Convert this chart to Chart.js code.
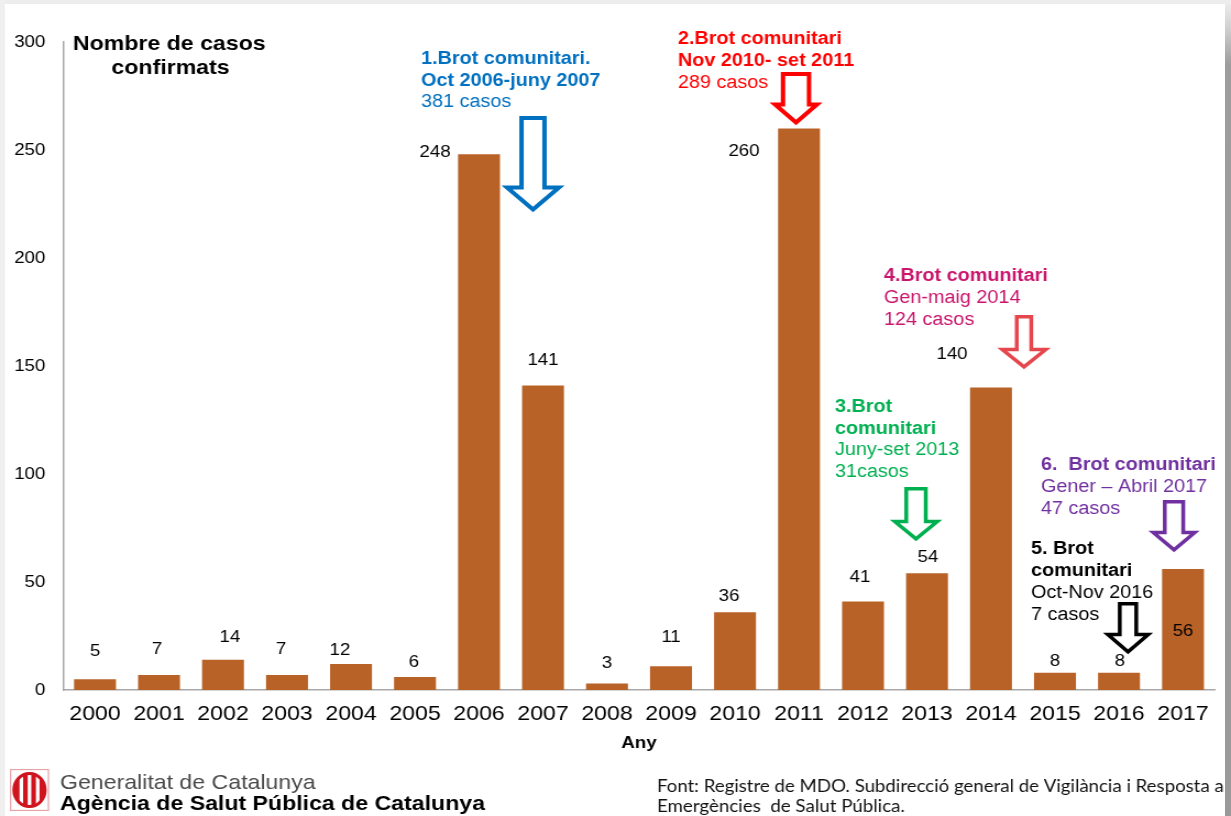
<!DOCTYPE html>
<html lang="ca">
<head>
<meta charset="utf-8">
<title>Nombre de casos confirmats per any, 2000-2017</title>
<script src="https://cdn.jsdelivr.net/npm/chart.js@4.4.1/dist/chart.umd.min.js"></script>
<style>
  html, body { margin: 0; padding: 0; background: #fff; overflow: hidden; }
  #page { position: relative; width: 1231px; height: 816px; overflow: hidden; background: #fff; }
  /* the slide is drawn on a narrower canvas and widened, like the original wide-screen slide */
  #stage { position: absolute; left: 0; top: 0; width: 1119px; height: 816px;
           transform: scaleX(1.10009); transform-origin: 0 0; }
  .edge { position: absolute; }
  #edgeTop { left: 0; top: 0; width: 1231px; height: 4px; background: #ededed; }
  #edgeLeft { left: 0; top: 0; width: 5px; height: 816px; background: #efefef; }
  #edgeRight { left: 1225px; top: 4px; width: 6px; height: 812px;
               background: linear-gradient(#ebebeb 0px, #cfcfcf 25px, #9d9d9d 60px, #999 816px); }
</style>
</head>
<body>
<div id="page">
  <div id="stage"><canvas id="chart" width="1119" height="816"></canvas></div>
  <div class="edge" id="edgeTop"></div>
  <div class="edge" id="edgeLeft"></div>
  <div class="edge" id="edgeRight"></div>
</div>
<script>
// ---- data ----
const years = ['2000', '2001', '2002', '2003', '2004', '2005', '2006', '2007', '2008',
               '2009', '2010', '2011', '2012', '2013', '2014', '2015', '2016', '2017'];
const cases = [5, 7, 14, 7, 12, 6, 248, 141, 3, 11, 36, 260, 41, 54, 140, 8, 8, 56];
const yTicks = [0, 50, 100, 150, 200, 250, 300];

// ---- value label placement (offset from bar top centre, page px) ----
const labelOffsets = [
  [0, -29], [-2, -27], [7, -24], [-6, -27], [-11, -15], [-1, -16],
  [-44, -3], [0, -27], [0, -22], [0, -30], [-6, -17], [-55, 22],
  [-3, -26], [1, -17], [-39, -35], [0, -13], [1, -13], [0, 61]
];

// ---- outbreak notes ----
const outbreaks = [
  { color: '#0070C0', x: 421, y: 57.5, lines: [['1.Brot comunitari.', true], ['Oct 2006-juny 2007', true], ['381 casos', false]],
    arrow: { bar: 7, dx: -10, top: 116, neck: 188, tip: 213, shaft: 13.5, head: 28, lw: 4, color: '#0070C0' } },
  { color: '#FF0000', x: 678, y: 38, lines: [['2.Brot comunitari', true], ['Nov 2010- set 2011', true], ['289 casos', false]],
    arrow: { bar: 11, dx: -3, top: 72, neck: 105, tip: 126, shaft: 15, head: 23, lw: 4, color: '#FF0000' } },
  { color: '#00B050', x: 835, y: 405.5, lines: [['3.Brot', true], ['comunitari', true], ['Juny-set 2013', false], ['31casos', false]],
    arrow: { bar: 13, dx: -11, top: 487, neck: 522, tip: 542, shaft: 11.5, head: 23, lw: 3.5, color: '#00B050' } },
  { color: '#C9156C', x: 884, y: 275, lines: [['4.Brot comunitari', true], ['Gen-maig 2014', false], ['124 casos', false]],
    arrow: { bar: 14, dx: 33, top: 315, neck: 350, tip: 370, shaft: 9, head: 23.5, lw: 3.5, color: '#E5474F' } },
  { color: '#000000', x: 1031, y: 548, lines: [['5. Brot', true], ['comunitari', true], ['Oct-Nov 2016', false], ['7 casos', false]],
    arrow: { bar: 16, dx: 9, top: 602, neck: 635, tip: 655, shaft: 10, head: 22, lw: 3.5, color: '#000000' } },
  { color: '#7030A0', x: 1041, y: 464, lines: [['6.  Brot comunitari', true], ['Gener \u2013 Abril 2017', false], ['47 casos', false]],
    arrow: { bar: 17, dx: -9, top: 500, neck: 533, tip: 553, shaft: 11, head: 22.5, lw: 3.5, color: '#7030A0' } }
];

// ---- drawing helpers ----
const SX = 1231 / 1119;          // horizontal widening of the stage
const X = v => v / SX;           // page x -> canvas x
const FONT = "'Liberation Sans', Arial, sans-serif";
const NOTE_SIZE = 18;
const NOTE_LINE = 21.7;

function label(ctx, str, x, yc, size, bold, color, align, family) {
  ctx.font = (bold ? 'bold ' : '') + size + 'px ' + (family || FONT);
  ctx.fillStyle = color;
  ctx.textAlign = align || 'left';
  ctx.textBaseline = 'alphabetic';
  ctx.fillText(str, x, yc + size * 0.358);
}

function hollowArrow(ctx, cx, a) {
  const h = a.lw / 2;
  const s = X(a.shaft - h), hd = X(a.head - h);
  const top = a.top + h, neck = a.neck - h * 0.3, tip = a.tip - a.lw * 0.9;
  ctx.save();
  ctx.beginPath();
  ctx.moveTo(cx - s, top);
  ctx.lineTo(cx + s, top);
  ctx.lineTo(cx + s, neck);
  ctx.lineTo(cx + hd, neck);
  ctx.lineTo(cx, tip);
  ctx.lineTo(cx - hd, neck);
  ctx.lineTo(cx - s, neck);
  ctx.closePath();
  ctx.fillStyle = '#fff';
  ctx.fill();
  ctx.strokeStyle = a.color;
  ctx.lineWidth = a.lw;
  ctx.lineJoin = 'miter';
  ctx.stroke();
  ctx.restore();
}

function drawEmblem(ctx) {
  const x0 = X(10), x1 = X(49), y0 = 769, y1 = 811;
  const cx = (x0 + x1) / 2, cy = (y0 + y1) / 2;
  ctx.save();
  ctx.fillStyle = '#f7e3e3';
  ctx.fillRect(x0, y0, x1 - x0, y1 - y0);
  ctx.fillStyle = '#ffffff';
  ctx.fillRect(x0 + 1.5, y0 + 1.5, x1 - x0 - 3, y1 - y0 - 3);
  ctx.strokeStyle = '#e6a3a6';
  ctx.lineWidth = 1;
  ctx.strokeRect(x0 + 0.5, y0 + 0.5, x1 - x0 - 1, y1 - y0 - 1);
  // round shield with four red pales
  ctx.beginPath();
  ctx.ellipse(cx, cy, X(16.5), 17.5, 0, 0, Math.PI * 2);
  ctx.clip();
  ctx.fillStyle = '#ffffff';
  ctx.fillRect(x0, y0, x1 - x0, y1 - y0);
  ctx.fillStyle = '#D0141E';
  const pw = X(4.6), gap = X(8.2);
  for (let i = 0; i < 4; i++) {
    ctx.fillRect(cx - 1.5 * gap + i * gap - pw / 2, y0, pw, y1 - y0);
  }
  ctx.restore();
  ctx.save();
  ctx.beginPath();
  ctx.ellipse(cx, cy, X(15.5), 16.5, 0, 0, Math.PI * 2);
  ctx.strokeStyle = '#D0141E';
  ctx.lineWidth = 3;
  ctx.stroke();
  ctx.restore();
}

function fittedLine(ctx, str, x, yc, width, family, color) {
  ctx.font = '16px ' + family;
  const size = 16 * width / ctx.measureText(str).width;
  label(ctx, str, x, yc, size, false, color, 'left', family);
}

const overlay = {
  id: 'overlay',
  afterDatasetsDraw(chart) {
    const ctx = chart.ctx;
    const bars = chart.getDatasetMeta(0).data;
    // value labels
    bars.forEach((bar, i) => {
      const [dx, dy] = labelOffsets[i];
      label(ctx, String(cases[i]), bar.x + X(dx), bar.y + dy, 17, false, '#000', 'center');
    });
    // outbreak notes and arrows
    outbreaks.forEach(o => {
      o.lines.forEach(([t, b], k) => label(ctx, t, X(o.x), o.y + k * NOTE_LINE, NOTE_SIZE, b, o.color));
      const bar = bars[o.arrow.bar];
      hollowArrow(ctx, bar.x + X(o.arrow.dx), o.arrow);
    });
  },
  afterDraw(chart) {
    const ctx = chart.ctx;
    const area = chart.chartArea;
    // axis captions
    label(ctx, 'Nombre de casos', X(73), 42.5, 21, true, '#000');
    label(ctx, 'confirmats', X(170.5), 66, 21, true, '#000', 'center');
    label(ctx, 'Any', (area.left + area.right) / 2, 742, 17, true, '#000', 'center');
    // footer
    drawEmblem(ctx);
    label(ctx, 'Generalitat de Catalunya', X(60), 781, 21, false, '#4a4a4a');
    label(ctx, 'Ag\u00e8ncia de Salut P\u00fablica de Catalunya', X(60), 802.5, 21, true, '#000');
    fittedLine(ctx, 'Font: Registre de MDO. Subdirecci\u00f3 general de Vigil\u00e0ncia i Resposta a',
               X(657), 786, X(567), "Lato, 'Open Sans', sans-serif", '#111');
    fittedLine(ctx, 'Emerg\u00e8ncies  de Salut P\u00fablica.',
               X(657), 806, X(248), "Lato, 'Open Sans', sans-serif", '#111');
  }
};

new Chart(document.getElementById('chart'), {
  type: 'bar',
  data: {
    labels: years,
    datasets: [{
      data: cases,
      backgroundColor: '#B96228',
      borderWidth: 0,
      categoryPercentage: 1,
      barPercentage: 0.655
    }]
  },
  options: {
    responsive: false,
    animation: false,
    devicePixelRatio: 1,
    layout: { padding: { top: 42, left: 0, right: 1119 - X(1215), bottom: 0 } },
    plugins: { legend: { display: false }, tooltip: { enabled: false } },
    scales: {
      x: {
        grid: { display: false, drawTicks: false },
        border: { display: true, color: '#A8A8A8', width: 1.5 },
        ticks: { color: '#000', font: { family: FONT, size: 21 }, padding: 12, maxRotation: 0, autoSkip: false },
        afterFit: s => { s.height = 126; }
      },
      y: {
        min: 0,
        max: 300,
        grid: { display: false, drawTicks: false },
        border: { display: true, color: '#A8A8A8', width: 1.5 },
        ticks: { color: '#000', font: { family: FONT, size: 17 }, padding: 16 },
        afterBuildTicks: s => { s.ticks = yTicks.map(v => ({ value: v })); },
        afterFit: s => { s.width = X(63); }
      }
    }
  },
  plugins: [overlay]
});
</script>
</body>
</html>
